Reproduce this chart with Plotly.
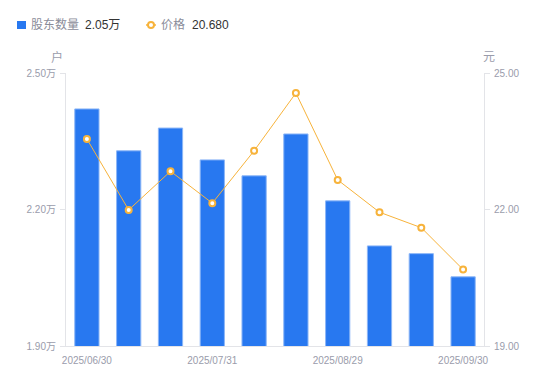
import plotly.graph_objects as go

dates = ["2025/06/30", "2025/07/10", "2025/07/20", "2025/07/31", "2025/08/10",
         "2025/08/20", "2025/08/29", "2025/09/10", "2025/09/20", "2025/09/30"]
holders = [2.421, 2.329, 2.379, 2.309, 2.274, 2.366, 2.219, 2.120, 2.103, 2.052]  # 万户
price = [23.55, 21.99, 22.84, 22.14, 23.29, 24.56, 22.65, 21.94, 21.60, 20.68]
x_ticks = ["2025/06/30", "2025/07/31", "2025/08/29", "2025/09/30"]
left_ticks = [1.90, 2.20, 2.50]
right_ticks = [19.0, 22.0, 25.0]
legend_names = ["股东数量", "价格"]
legend_values = ["2.05万", "20.680"]

font_family = "Liberation Sans, Noto Sans CJK SC, sans-serif"
grey = "#9a9cab"
axis_line = "#e3e4e8"
blue = "#2878f0"
orange = "#f7b33b"

# page has an 8px body margin; plot area in page pixels: x 66..484, y 73..346
L, T, PW, PH = 58, 65, 418, 273
W, H = L + PW + 66, T + PH + 35


def px(xp):
    return (xp - 66) / PW


def py(yp):
    return (346 - yp) / PH


fig = go.Figure()
fig.add_trace(go.Bar(
    x=dates, y=holders, yaxis="y", name=legend_names[0],
    marker=dict(color=blue, line=dict(color="#8cb6f7", width=1)),
    width=0.58,
))
fig.add_trace(go.Scatter(
    x=dates, y=price, yaxis="y2", mode="lines+markers", name=legend_names[1],
    line=dict(color=orange, width=1),
    marker=dict(symbol="circle", size=6, color="white",
                line=dict(color=orange, width=2)),
))

shapes = [
    dict(type="rect", xref="paper", yref="paper", x0=px(17), x1=px(26), y0=py(29), y1=py(21),
         fillcolor=blue, line=dict(width=0)),
    dict(type="line", xref="paper", yref="paper", x0=px(146), x1=px(156), y0=py(25), y1=py(25),
         line=dict(color=orange, width=1.5)),
    dict(type="circle", xref="paper", yref="paper", x0=px(148), x1=px(154), y0=py(28), y1=py(22),
         fillcolor="white", line=dict(color=orange, width=2)),
]

annotations = [
    dict(text=legend_names[0], x=px(29), y=py(25), font=dict(size=12, color="#8a8c99")),
    dict(text=legend_values[0], x=px(83), y=py(25), font=dict(size=12, color="#333333")),
    dict(text=legend_names[1], x=px(159), y=py(25), font=dict(size=12, color="#8a8c99")),
    dict(text=legend_values[1], x=px(190), y=py(25), font=dict(size=12, color="#333333")),
]
for a in annotations:
    a.update(xref="paper", yref="paper", showarrow=False, xanchor="left", yanchor="middle")
annotations += [
    dict(text="户", xref="paper", yref="paper", x=px(57), y=py(57),
         showarrow=False, font=dict(size=12, color=grey), xanchor="center", yanchor="middle"),
    dict(text="元", xref="paper", yref="paper", x=px(489), y=py(57),
         showarrow=False, font=dict(size=12, color=grey), xanchor="center", yanchor="middle"),
]

tick_font = dict(size=10, color=grey)

fig.update_layout(
    width=W, height=H,
    margin=dict(l=L, r=66, t=T, b=35, autoexpand=False),
    paper_bgcolor="white", plot_bgcolor="white",
    font=dict(family=font_family, size=10, color=grey),
    showlegend=False,
    xaxis=dict(
        type="category", categoryorder="array", categoryarray=dates,
        range=[-0.5, len(dates) - 0.5],
        tickvals=x_ticks, ticktext=x_ticks,
        showline=True, linecolor=axis_line, linewidth=1,
        ticks="", showgrid=False, tickfont=tick_font, ticklabelstandoff=5,
    ),
    yaxis=dict(
        range=[1.90, 2.50], tickvals=left_ticks,
        ticktext=[f"{v:.2f}万" for v in left_ticks],
        showline=True, linecolor=axis_line, linewidth=1,
        ticks="outside", ticklen=5, tickcolor=axis_line,
        showgrid=False, zeroline=False, tickfont=tick_font, ticklabelstandoff=2,
    ),
    yaxis2=dict(
        range=[19.0, 25.0], tickvals=right_ticks,
        ticktext=[f"{v:.2f}" for v in right_ticks],
        overlaying="y", side="right",
        showline=True, linecolor=axis_line, linewidth=1,
        ticks="outside", ticklen=5, tickcolor=axis_line,
        showgrid=False, zeroline=False, tickfont=tick_font, ticklabelstandoff=2,
    ),
    shapes=shapes,
    annotations=annotations,
)

fig.write_html("out.html")
